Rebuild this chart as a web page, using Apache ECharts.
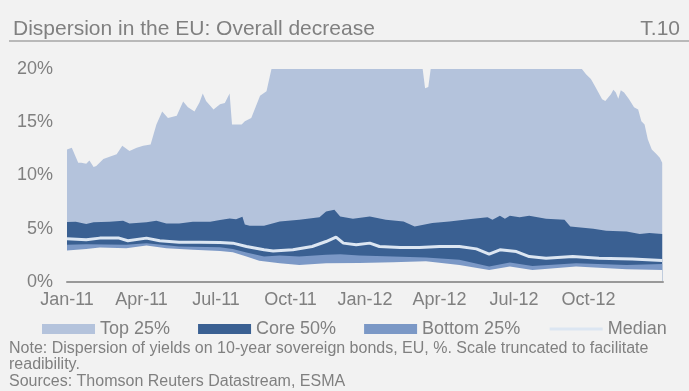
<!DOCTYPE html>
<html>
<head>
<meta charset="utf-8">
<script src="https://cdn.jsdelivr.net/npm/echarts@6/dist/echarts.min.js"></script>
<style>
html,body{margin:0;padding:0;background:#f2f2f2;}
#c{width:689px;height:391px;}
</style>
</head>
<body>
<div id="c"></div>
<script>
// ---------- DATA ----------
const tickLabels = ['Jan-11','Apr-11','Jul-11','Oct-11','Jan-12','Apr-12','Jul-12','Oct-12'];

// Top 25% (maximum yield, scale truncated at 20%)
const topDates = ['2011-01-01','2011-01-07','2011-01-09','2011-01-15','2011-01-19','2011-01-25','2011-01-29','2011-02-03','2011-02-06','2011-02-14','2011-02-21','2011-03-01','2011-03-08','2011-03-17','2011-03-26','2011-04-03','2011-04-12','2011-04-19','2011-04-26','2011-05-03','2011-05-14','2011-05-22','2011-05-28','2011-06-05','2011-06-11','2011-06-15','2011-06-19','2011-06-28','2011-07-06','2011-07-12','2011-07-18','2011-07-21','2011-08-02','2011-08-06','2011-08-14','2011-08-25','2011-09-02','2011-09-08','2012-03-11','2012-03-14','2012-03-18','2012-03-21','2012-09-23','2012-09-28','2012-10-04','2012-10-10','2012-10-18','2012-10-22','2012-10-29','2012-11-01','2012-11-04','2012-11-07','2012-11-10','2012-11-14','2012-11-20','2012-11-26','2012-12-01','2012-12-05','2012-12-09','2012-12-13','2012-12-18','2012-12-24','2012-12-28','2012-12-31'];
const topValues = [12.45,12.6,12.45,11.2,11.2,11.1,11.4,10.8,10.9,11.55,11.75,12.0,12.8,12.3,12.6,12.8,12.9,14.8,16.0,15.4,15.6,16.95,16.4,16.0,16.85,17.7,17.0,16.2,16.7,16.8,17.7,14.8,14.8,15.1,15.4,17.5,17.9,20,20,18.2,18.3,20,20,19.5,19.05,18.27,17.17,17.0,17.64,18.05,17.8,17.2,18.0,17.8,17.17,16.4,16.2,15.1,14.8,13.4,12.45,12.0,11.67,11.2];

// Core 50% upper bound (75th percentile)
const coreDates = ['2011-01-01','2011-01-12','2011-01-25','2011-02-03','2011-02-21','2011-03-09','2011-03-17','2011-04-07','2011-04-19','2011-05-01','2011-05-17','2011-06-03','2011-06-24','2011-07-06','2011-07-18','2011-07-26','2011-08-03','2011-08-06','2011-08-12','2011-08-30','2011-09-18','2011-10-12','2011-11-06','2011-11-14','2011-11-24','2011-12-01','2011-12-17','2012-01-07','2012-01-27','2012-02-17','2012-03-01','2012-03-23','2012-04-13','2012-05-01','2012-05-12','2012-05-30','2012-06-05','2012-06-14','2012-06-20','2012-06-26','2012-07-08','2012-07-20','2012-08-10','2012-09-02','2012-09-09','2012-10-07','2012-10-23','2012-11-17','2012-12-03','2012-12-15','2012-12-31'];
const coreValues = [5.63,5.66,5.45,5.6,5.66,5.75,5.5,5.6,5.75,5.5,5.5,5.66,5.66,5.82,5.97,5.9,6.13,5.41,5.27,5.27,5.69,5.85,6.07,6.63,6.79,6.16,5.94,6.16,5.85,5.69,5.22,5.53,5.69,5.85,5.94,6.07,5.85,6.23,5.94,6.23,6.07,6.23,5.94,5.85,5.22,5.0,4.81,4.75,4.5,4.6,4.5];

// Bottom 25% upper bound (25th percentile)
const bottomDates = ['2011-01-01','2011-01-25','2011-03-13','2011-04-07','2011-05-17','2011-07-06','2011-07-22','2011-08-08','2011-08-30','2011-09-18','2011-10-12','2011-11-14','2011-12-01','2011-12-25','2012-02-05','2012-03-15','2012-04-25','2012-06-01','2012-06-26','2012-07-24','2012-09-16','2012-11-17','2012-12-31'];
const bottomValues = [3.49,3.55,3.49,3.65,3.33,3.27,3.11,2.77,2.39,2.48,2.39,2.55,2.61,2.48,2.39,2.3,2.1,1.45,1.82,1.5,1.76,1.6,1.7];

// Minimum yield (lower edge of the Bottom 25% band)
const minDates = ['2011-01-01','2011-01-25','2011-02-10','2011-03-13','2011-04-07','2011-05-01','2011-06-03','2011-07-06','2011-07-22','2011-08-08','2011-08-24','2011-09-18','2011-10-12','2011-11-14','2011-12-25','2012-02-05','2012-03-15','2012-04-25','2012-06-01','2012-06-26','2012-07-24','2012-09-16','2012-11-17','2012-12-31'];
const minValues = [2.96,3.11,3.24,3.18,3.43,3.18,3.02,2.92,2.8,2.39,2.0,1.76,1.6,1.76,1.78,1.86,1.95,1.6,1.13,1.45,1.13,1.45,1.2,1.13];

// Median
const medianDates = ['2011-01-01','2011-01-25','2011-02-10','2011-03-04','2011-03-15','2011-04-07','2011-04-23','2011-05-17','2011-06-11','2011-07-06','2011-07-22','2011-08-08','2011-08-30','2011-09-10','2011-10-04','2011-10-28','2011-11-14','2011-11-26','2011-12-05','2011-12-21','2012-01-07','2012-01-19','2012-02-13','2012-03-07','2012-04-01','2012-04-25','2012-05-16','2012-06-01','2012-06-14','2012-07-04','2012-07-20','2012-08-10','2012-09-12','2012-10-14','2012-11-24','2012-12-31'];
const medianValues = [4.06,3.96,4.12,4.12,3.87,4.12,3.87,3.74,3.74,3.71,3.65,3.33,3.02,2.92,3.02,3.33,3.8,4.22,3.65,3.49,3.65,3.33,3.24,3.24,3.33,3.33,3.11,2.61,3.02,2.86,2.39,2.23,2.39,2.23,2.17,2.01];

const yTicks = [0, 5, 10, 15, 20];

// ---------- HELPERS ----------
function toMonths(s) {
  const p = s.split('-').map(Number);
  const dim = new Date(p[0], p[1], 0).getDate();
  return (p[0] - 2011) * 12 + (p[1] - 1) + (p[2] - 1) / dim;
}
function pairs(dates, vals) { return dates.map((d, i) => [toMonths(d), vals[i]]); }

const FONT = "'Liberation Sans', Arial, sans-serif";
const GRAY = '#808080';
const BG = '#f2f2f2';
const C_TOP = '#b4c3dc', C_CORE = '#3a6092', C_BOT = '#7b98c6', C_MED = '#dce6f2';

function areaSeries(name, data, color, z) {
  return {
    name: name, type: 'line', data: data, showSymbol: false, symbol: 'none',
    smooth: false, z: z, silent: true,
    itemStyle: { color: color },
    lineStyle: { width: 0, color: color },
    areaStyle: { color: color, opacity: 1 }
  };
}

const chart = echarts.init(document.getElementById('c'), null, { renderer: 'canvas' });
chart.setOption({
  backgroundColor: BG,
  animation: false,
  textStyle: { fontFamily: FONT },
  title: [
    { text: 'Dispersion in the EU: Overall decrease', left: 8, top: 14,
      textStyle: { fontSize: 21, fontWeight: 'normal', color: GRAY, fontFamily: FONT } },
    { text: 'T.10', right: 4, top: 14,
      textStyle: { fontSize: 21, fontWeight: 'normal', color: GRAY, fontFamily: FONT } }
  ],
  graphic: [
    { type: 'line', shape: { x1: 9, y1: 41, x2: 689, y2: 41 }, style: { stroke: '#a6a6a6', lineWidth: 1.5 } },
    { type: 'text', left: 9, top: 341, style: { text: 'Note: Dispersion of yields on 10-year sovereign bonds, EU, %. Scale truncated to facilitate', fill: GRAY, font: '16px ' + FONT } },
    { type: 'text', left: 9, top: 357, style: { text: 'readibility.', fill: GRAY, font: '16px ' + FONT } },
    { type: 'text', left: 9, top: 374, style: { text: 'Sources: Thomson Reuters Datastream, ESMA', fill: GRAY, font: '16px ' + FONT } }
  ],
  legend: {
    left: 42, top: 320, padding: 0,
    itemWidth: 53, itemHeight: 10, itemGap: 28,
    textStyle: { fontSize: 18, color: GRAY, fontFamily: FONT, padding: [0, 0, 0, 0] },
    data: [
      { name: 'Top 25%', icon: 'rect' },
      { name: 'Core 50%', icon: 'rect' },
      { name: 'Bottom 25%', icon: 'rect' },
      { name: 'Median', itemStyle: { opacity: 0 }, lineStyle: { width: 3, color: C_MED } }
    ]
  },
  grid: { left: 67, right: 26, top: 69, bottom: 109, containLabel: false },
  xAxis: {
    type: 'value', min: 0, max: 24, interval: 3, z: 10,
    axisLine: { show: true, lineStyle: { color: '#999999', width: 2 } },
    axisTick: { show: false },
    splitLine: { show: false },
    axisLabel: {
      color: GRAY, fontSize: 18, fontFamily: FONT, margin: 9, showMaxLabel: false,
      formatter: v => tickLabels[Math.round(v / 3)] || ''
    }
  },
  yAxis: {
    type: 'value', min: yTicks[0], max: yTicks[yTicks.length - 1], interval: 5,
    axisLine: { show: false }, axisTick: { show: false }, splitLine: { show: false },
    axisLabel: { color: GRAY, fontSize: 18, fontFamily: FONT, margin: 14, formatter: v => v + '%' }
  },
  series: [
    areaSeries('Top 25%', pairs(topDates, topValues), C_TOP, 2),
    areaSeries('Core 50%', pairs(coreDates, coreValues), C_CORE, 3),
    areaSeries('Bottom 25%', pairs(bottomDates, bottomValues), C_BOT, 4),
    Object.assign(areaSeries('min', pairs(minDates, minValues), BG, 5), { legendHoverLink: false }),
    {
      name: 'Median', type: 'line', data: pairs(medianDates, medianValues), showSymbol: false, symbol: 'none',
      z: 6, silent: true, itemStyle: { color: C_MED }, lineStyle: { width: 3, color: C_MED }
    }
  ]
});
</script>
</body>
</html>
